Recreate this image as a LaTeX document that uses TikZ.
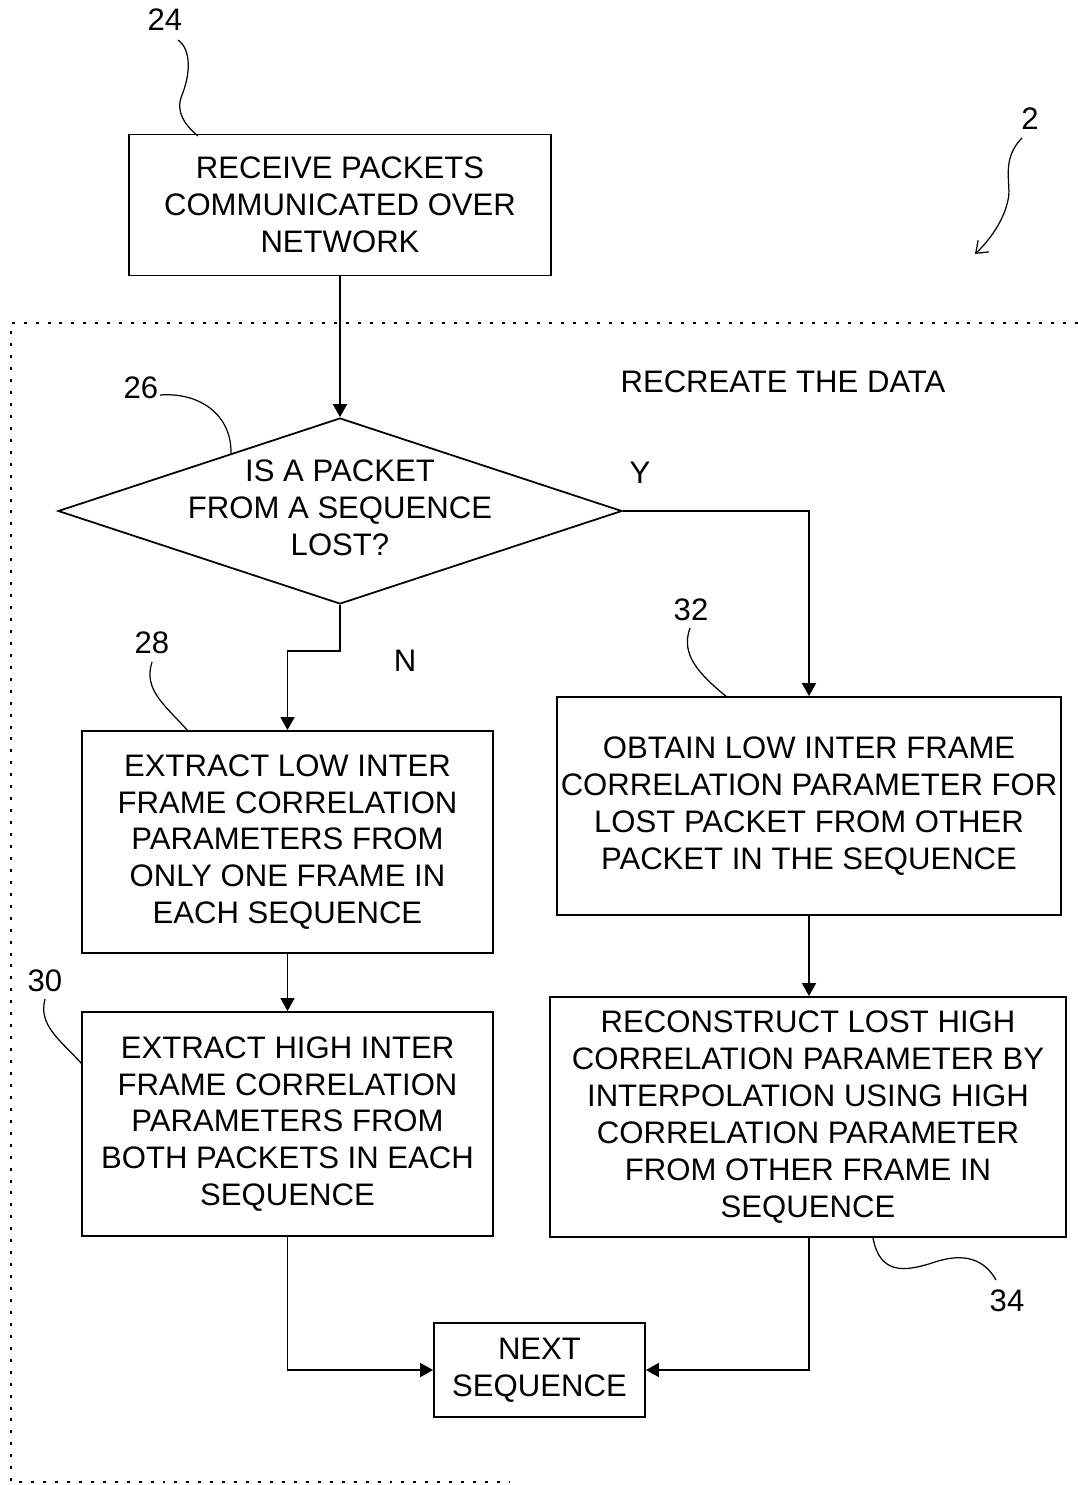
\documentclass[tikz,border=0pt]{standalone}
\usepackage{fontspec}
\setmainfont{Liberation Sans}
\usetikzlibrary{arrows.meta,shapes.geometric}
\begin{document}
\begin{tikzpicture}[x=0.02cm,y=-0.02cm,
  font=\fontsize{17.7}{21}\selectfont,
  box/.style={draw, line width=1.1pt, align=center, inner sep=0pt},
  arr/.style={line width=0.9pt, -{Triangle[length=7.4pt,width=8pt]}},
  lead/.style={line width=0.7pt},
  dotline/.style={line width=1.5pt, dash pattern=on 1.7pt off 5.1pt},
  lbl/.style={inner sep=0pt}]
\useasboundingbox (0,0) rectangle (1078,1485);

% boxes
\node[box, minimum width=8.44cm, minimum height=2.82cm] (b24) at (340,205)
  {RECEIVE PACKETS\\COMMUNICATED OVER\\NETWORK};
\node[diamond, draw, line width=1pt, inner sep=0pt, minimum width=11.28cm, minimum height=3.72cm] (dia) at (340,511) {};
\node[align=center, inner sep=0pt] (diatext) at (340,508) {IS A PACKET\\FROM A SEQUENCE\\LOST?};
\node[box, minimum width=8.22cm, minimum height=4.44cm] (b28) at (287.5,842)
  {EXTRACT LOW INTER\\FRAME CORRELATION\\PARAMETERS FROM\\ONLY ONE FRAME IN\\EACH SEQUENCE};
\node[box, minimum width=8.22cm, minimum height=4.48cm] (b30) at (287.5,1124)
  {EXTRACT HIGH INTER\\FRAME CORRELATION\\PARAMETERS FROM\\BOTH PACKETS IN EACH\\SEQUENCE};
\node[box, minimum width=10.08cm, minimum height=4.36cm] (b32) at (809,806)
  {OBTAIN LOW INTER FRAME\\CORRELATION PARAMETER FOR\\LOST PACKET FROM OTHER\\PACKET IN THE SEQUENCE};
\node[box, minimum width=10.32cm, minimum height=4.8cm] (b34) at (808,1117)
  {RECONSTRUCT LOST HIGH\\CORRELATION PARAMETER BY\\INTERPOLATION USING HIGH\\CORRELATION PARAMETER\\FROM OTHER FRAME IN\\SEQUENCE};
\node[box, minimum width=4.22cm, minimum height=1.88cm] (next) at (539.5,1370)
  {NEXT\\SEQUENCE};

% texts
\node[lbl] (rec) at (783,382) {RECREATE THE DATA};
\node[lbl] (ylab) at (640,473) {Y};
\node[lbl] (nlab) at (405,661) {N};
\node[lbl] (l24) at (165,20) {24};
\node[lbl] (l2) at (1030,119) {2};
\node[lbl] (l26) at (141,388) {26};
\node[lbl] (l28) at (152,643) {28};
\node[lbl] (l32) at (691,610) {32};
\node[lbl] (l30) at (45,981) {30};
\node[lbl] (l34) at (1007,1301) {34};

% dotted region
\coordinate (dtr) at (1078,323);
\coordinate (dtl) at (11,323);
\coordinate (dbl) at (11,1482);
\coordinate (dbr) at (510,1482);
\draw[dotline] (dtr) -- (dtl) -- (dbl) -- (dbr);

% connectors
\draw[arr] (b24.south) -- (dia.north);
\draw[arr] (dia.east) -| (b32.north);
\draw[arr] (dia.south) -- ++(0,46) -| (b28.north);
\draw[arr] (b28.south) -- (b30.north);
\draw[arr] (b32.south) -- (b32.south |- b34.north);
\draw[arr] (b30.south) |- (next.west);
\draw[arr] (b32.south |- b34.south) |- (next.east);

% reference leaders
\draw[lead] (178,40) .. controls (192,50) and (190,75) .. (182,95)
  .. controls (175,112) and (185,125) .. (198,136);
\draw[lead] (160,395) .. controls (200,392) and (232,415) .. (231,454);
\draw[lead] (152,662) .. controls (143,690) and (165,705) .. (188,731);
\draw[lead] (690,628) .. controls (680,655) and (700,675) .. (727,697);
\draw[lead] (45,999) .. controls (38,1025) and (60,1040) .. (82,1064);
\draw[lead] (873,1238) .. controls (880,1275) and (905,1272) .. (935,1262)
  .. controls (965,1252) and (985,1260) .. (996,1280);
\draw[lead, -{Straight Barb[length=6pt,width=9pt]}] (1022,138) .. controls (1000,160) and (1012,185) .. (1008,200)
  .. controls (1004,220) and (990,240) .. (975,254);
\end{tikzpicture}
\end{document}
